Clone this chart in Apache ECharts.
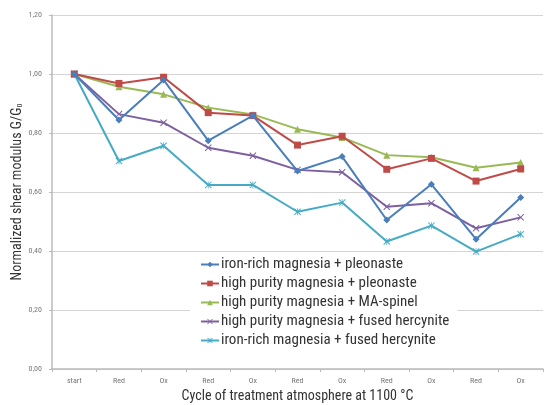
<!DOCTYPE html>
<html><head><meta charset="utf-8">
<script src="https://cdn.jsdelivr.net/npm/echarts@6/dist/echarts.min.js"></script>
<style>html,body{margin:0;padding:0;background:#fff}#c{width:545px;height:405px}</style>
</head><body><div id="c"></div>
<script>
const categories = ['start','Red','Ox','Red','Ox','Red','Ox','Red','Ox','Red','Ox'];
const yTicks = [0, 0.2, 0.4, 0.6, 0.8, 1.0, 1.2];
const seriesNames = [
  'iron-rich magnesia + pleonaste',
  'high purity magnesia + pleonaste',
  'high purity magnesia + MA-spinel',
  'high purity magnesia + fused hercynite',
  'iron-rich magnesia + fused hercynite'
];
const ironPleonaste   = [1.00, 0.844, 0.980, 0.774, 0.859, 0.671, 0.720, 0.505, 0.626, 0.440, 0.581];
const purePleonaste   = [1.00, 0.968, 0.989, 0.869, 0.859, 0.759, 0.789, 0.677, 0.714, 0.637, 0.678];
const pureSpinel      = [1.00, 0.957, 0.931, 0.886, 0.863, 0.813, 0.785, 0.725, 0.718, 0.682, 0.700];
const pureHercynite   = [1.00, 0.864, 0.835, 0.750, 0.723, 0.675, 0.667, 0.550, 0.562, 0.477, 0.514];
const ironHercynite   = [1.00, 0.705, 0.757, 0.624, 0.624, 0.533, 0.564, 0.432, 0.486, 0.398, 0.457];

const colors = ['#4A7EBB','#BE4B48','#98B954','#7D60A0','#46AAC5'];
const X = 'path://M0,1L1,0L5,4L9,0L10,1L6,5L10,9L9,10L5,6L1,10L0,9L4,5Z';
const STAR = 'path://M0,1L1,0L5,4L9,0L10,1L6,5L10,9L9,10L5,6L1,10L0,9L4,5Z M4.5,0L5.5,0L5.5,10L4.5,10Z';
const symbols = ['diamond','rect','triangle',X,STAR];
const sizes = [7,7,7,7,7];
const allData = [ironPleonaste, purePleonaste, pureSpinel, pureHercynite, ironHercynite];
const FONT = '"Roboto Condensed","DejaVu Sans Condensed",sans-serif';

const chart = echarts.init(document.getElementById('c'), null, {renderer:'canvas'});
chart.setOption({
  backgroundColor:'#fff',
  animation:false,
  color: colors,
  grid:{left:52, right:2, top:15, bottom:36, containLabel:false, outerBoundsMode:'none'},
  legend:{
    orient:'vertical', left:190, top:254,
    backgroundColor:'#fff', padding:[3,8,6,10],
    itemGap:4, itemWidth:18, itemHeight:7,
    textStyle:{fontSize:15, color:'#333', fontFamily:FONT, padding:[0,0,0,-3]},
    data: seriesNames
  },
  xAxis:{
    type:'category', data:categories, boundaryGap:true,
    name:'Cycle of treatment atmosphere at 1100 °C',
    nameLocation:'middle', nameGap:20,
    nameTextStyle:{fontSize:14, color:'#333', fontFamily:FONT},
    axisLine:{lineStyle:{color:'#bbb', width:1.5}},
    axisTick:{show:true, length:3, lineStyle:{color:'#bbb'}},
    axisLabel:{fontSize:8, color:'#777', fontFamily:FONT, margin:8}
  },
  yAxis:{
    type:'value', min:0, max:1.2, interval:0.2,
    name:'{a|Normalized shear modulus G/G}{b|0}',
    nameLocation:'middle', nameGap:28, nameMoveOverlap:false,
    nameTextStyle:{
      rich:{
        a:{fontSize:14, color:'#333', fontFamily:FONT},
        b:{fontSize:8, color:'#333', fontFamily:FONT, verticalAlign:'bottom', padding:[6,0,0,0]}
      }
    },
    axisLine:{show:true, lineStyle:{color:'#bbb', width:1.5}},
    axisTick:{show:true, length:3, lineStyle:{color:'#bbb'}},
    splitLine:{lineStyle:{color:'#d4d4d4', width:1.2}},
    axisLabel:{fontSize:8, color:'#777', fontFamily:FONT, margin:10,
      formatter:v=>v.toFixed(2).replace('.',',')}
  },
  series: seriesNames.map((n,i)=>({
    name:n, type:'line', data:allData[i],
    symbol:symbols[i], symbolSize:sizes[i], showSymbol:true,
    lineStyle:{width:2, color:colors[i]},
    itemStyle:{color:colors[i]},
    z: 10-i
  }))
});
</script></body></html>
